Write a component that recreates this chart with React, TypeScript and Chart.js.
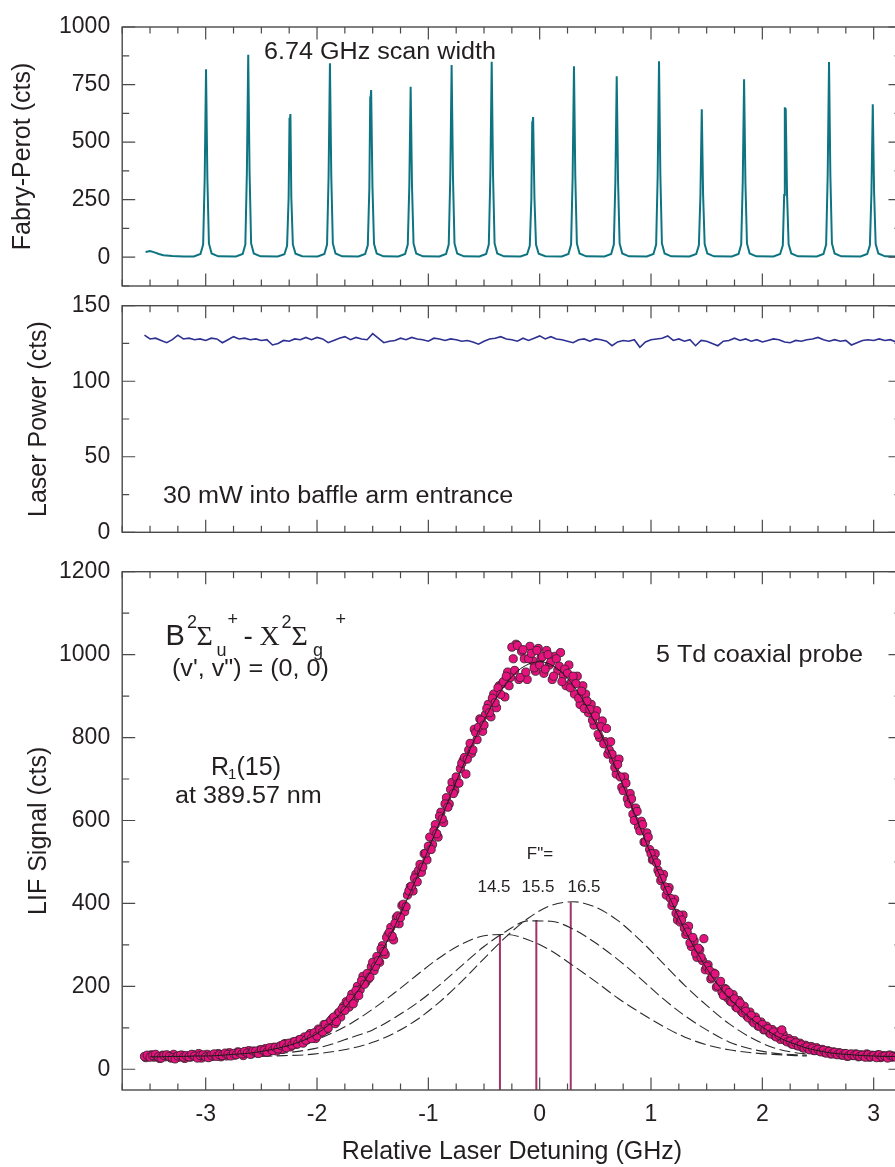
import React, { useEffect, useRef } from 'react';
import { Chart, registerables } from 'chart.js';

Chart.register(...registerables);

const FONT = "'Liberation Sans', Arial, Helvetica, sans-serif";
const SERIF = "'Liberation Serif', 'Times New Roman', serif";
const TEXT = '#231f20';
const AXIS = '#4a4a4a';

// ---------- axes ----------
const X_MIN = -3.75;
const X_MAX = 3.25;
const xTickLabels = [-3, -2, -1, 0, 1, 2, 3];
const fpTickLabels = [0, 250, 500, 750, 1000];
const powerTickLabels = [0, 50, 100, 150];
const lifTickLabels = [0, 200, 400, 600, 800, 1000, 1200];

// ---------- Fabry-Perot trace (GHz, cts) ----------
const fpX = [
  -3.54, -3.5, -3.46, -3.42, -3.38, -3.3, -3.2,
  -3.107, -3.047, -3.023, -3.009, -2.997, -2.985, -2.971, -2.947, -2.887,
  -2.728, -2.668, -2.644, -2.63, -2.618, -2.606, -2.592, -2.568, -2.508,
  -2.353, -2.293, -2.269, -2.255, -2.247, -2.244, -2.239, -2.231, -2.217, -2.193, -2.133,
  -1.994, -1.934, -1.91, -1.896, -1.884, -1.872, -1.858, -1.834, -1.774,
  -1.628, -1.568, -1.544, -1.53, -1.522, -1.519, -1.514, -1.502, -1.488, -1.464, -1.404,
  -1.269, -1.209, -1.185, -1.171, -1.159, -1.147, -1.133, -1.109, -1.049,
  -0.901, -0.841, -0.817, -0.803, -0.791, -0.779, -0.765, -0.741, -0.681,
  -0.541, -0.481, -0.457, -0.443, -0.431, -0.419, -0.405, -0.381, -0.321,
  -0.173, -0.113, -0.089, -0.075, -0.067, -0.064, -0.059, -0.047, -0.033, -0.009, 0.051,
  0.198, 0.258, 0.282, 0.296, 0.308, 0.32, 0.334, 0.358, 0.418,
  0.582, 0.642, 0.666, 0.68, 0.692, 0.704, 0.718, 0.742, 0.802,
  0.962, 1.022, 1.046, 1.06, 1.072, 1.084, 1.098, 1.122, 1.182,
  1.346, 1.406, 1.43, 1.444, 1.456, 1.468, 1.482, 1.506, 1.566,
  1.726, 1.786, 1.81, 1.824, 1.836, 1.848, 1.862, 1.886, 1.946,
  2.1, 2.16, 2.184, 2.196, 2.202, 2.205, 2.21, 2.222, 2.236, 2.26, 2.32,
  2.489, 2.549, 2.573, 2.587, 2.599, 2.611, 2.625, 2.649, 2.709,
  2.882, 2.942, 2.966, 2.98, 2.992, 3.004, 3.018, 3.042, 3.102, 3.2, 3.3,
];
const fpY = [
  23, 27, 21, 14, 9, 5, 3,
  3, 14, 55, 343, 816, 343, 60, 16, 4,
  3, 14, 55, 369, 879, 369, 60, 16, 4,
  3, 13, 50, 260, 606, 592, 622, 262, 55, 15, 4,
  3, 14, 55, 354, 842, 354, 60, 16, 4,
  3, 14, 52, 300, 698, 688, 726, 305, 58, 16, 4,
  3, 14, 55, 311, 740, 311, 60, 16, 4,
  3, 14, 55, 351, 835, 351, 60, 16, 4,
  3, 14, 55, 357, 849, 357, 60, 16, 4,
  3, 13, 50, 250, 590, 582, 609, 256, 55, 15, 4,
  3, 14, 55, 348, 829, 348, 60, 16, 4,
  3, 14, 55, 330, 786, 330, 60, 16, 4,
  3, 14, 55, 357, 851, 357, 60, 16, 4,
  3, 14, 52, 270, 643, 270, 57, 16, 4,
  3, 14, 55, 325, 773, 325, 60, 16, 4,
  3, 14, 52, 270, 651, 640, 647, 272, 57, 16, 4,
  3, 14, 55, 356, 848, 356, 60, 16, 4,
  3, 14, 52, 279, 664, 279, 57, 16, 4, 3, 3,
];

// ---------- Laser power (cts), sampled every 0.05 GHz from -3.55 ----------
const POWER_X0 = -3.55;
const POWER_DX = 0.05;
const powerValues = [
  130.5, 128, 128.5, 127, 125.5, 127.5, 130.5, 128, 128.5, 127.5,
  128, 127, 128.5, 128, 125.5, 127.5, 129.5, 128, 128.5, 127.5,
  128, 127, 127.5, 124, 125, 127, 126.5, 128, 127.5, 129,
  127.5, 129, 128, 125.5, 127, 128.5, 129.5, 127.5, 129, 128,
  127.5, 131.5, 128.5, 125.5, 126.5, 127, 128.5, 127.5, 129, 128,
  127.5, 126.5, 128.5, 128, 127, 128, 127.5, 126.5, 127, 126,
  124.5, 126.5, 128, 128.5, 129.5, 128, 127.5, 126.5, 128.5, 127,
  128.5, 130, 128, 129.5, 128, 127.5, 126.5, 125.5, 127.5, 128,
  126.5, 128, 127.5, 126.5, 123.5, 126, 127, 126.5, 127.5, 122.5,
  126, 127.5, 128, 128.5, 130, 127, 128, 126.5, 127.5, 123.5,
  127, 126.5, 125, 123.5, 126.5, 127, 128.5, 127, 128, 126.5,
  127.5, 126, 127, 128, 127.5, 126, 125.5, 127, 126.5, 127.5,
  128, 129, 127.5, 126.5, 127.5, 126.5, 127, 124, 125.5, 127,
  127.5, 127, 128, 127, 127.5, 126,
];

// ---------- LIF signal points (cts) ----------
// series A: every 0.025 GHz from -3.55
const LIF_X0 = -3.55;
const LIF_DX = 0.025;
const lifValues = [
  31, 34, 29, 33, 36, 30, 27, 33,
  35, 31, 28, 25, 32, 34, 29, 33,
  30, 36, 32, 27, 33, 35, 30, 28,
  34, 37, 31, 35, 33, 39, 36, 32,
  38, 35, 41, 37, 43, 39, 36, 44,
  44, 38, 47, 46, 41, 52, 45, 53,
  49, 57, 60, 52, 63, 58, 67, 61,
  72, 63, 70, 81, 74, 88, 80, 95,
  90, 108, 99, 118, 126, 115, 138, 146,
  142, 160, 171, 158, 190, 178, 214, 205,
  231, 222, 258, 248, 262, 290, 284, 318,
  330, 321, 352, 370, 366, 398, 392, 430,
  442, 461, 452, 494, 488, 521, 538, 530,
  575, 568, 610, 604, 640, 632, 675, 665,
  705, 690, 738, 752, 748, 786, 770, 812,
  825, 842, 830, 870, 860, 895, 884, 920,
  904, 935, 948, 925, 1018, 962, 1022, 945,
  1012, 958, 990, 1003, 968, 1010, 975, 995,
  965, 1000, 982, 948, 990, 972, 935, 965,
  955, 920, 948, 930, 895, 912, 870, 888,
  868, 842, 852, 808, 826, 785, 822, 770,
  760, 728, 735, 705, 672, 690, 640, 652,
  600, 622, 575, 590, 548, 560, 520, 505,
  498, 472, 460, 440, 431, 412, 402, 376,
  372, 360, 340, 331, 305, 318, 280, 292,
  270, 315, 248, 238, 222, 230, 201, 212,
  178, 192, 185, 162, 170, 148, 160, 136,
  140, 124, 130, 112, 118, 104, 108, 96,
  98, 85, 90, 78, 82, 95, 72, 66,
  68, 60, 64, 56, 59, 51, 54, 47,
  51, 45, 48, 42, 46, 39, 43, 37,
  41, 35, 39, 34, 38, 32, 37, 33,
  36, 31, 34, 29, 35, 30, 33, 28,
  35, 30, 32, 27, 34, 31, 29,
];
// series B: every 0.025 GHz from -3.5375 (interleaved scans)
const LIF2_X0 = -3.5375;
const lifValues2 = [
  28, 32, 35, 29, 31, 26, 34, 30,
  33, 27, 36, 30, 29, 34, 26, 31,
  29, 35, 31, 38, 27, 32, 36, 30,
  31, 35, 38, 30, 36, 32, 40, 35,
  34, 42, 38, 33, 40, 45, 37, 41,
  39, 47, 43, 50, 42, 48, 53, 44,
  55, 48, 62, 57, 54, 66, 60, 71,
  66, 78, 71, 86, 80, 74, 97, 89,
  108, 96, 114, 122, 110, 134, 126, 152,
  163, 150, 181, 168, 200, 192, 224, 210,
  218, 247, 238, 272, 258, 298, 277, 325,
  342, 312, 366, 351, 395, 380, 420, 440,
  430, 470, 480, 475, 520, 505, 560, 542,
  590, 560, 620, 595, 655, 640, 692, 672,
  690, 725, 745, 712, 770, 762, 820, 795,
  845, 815, 855, 880, 850, 905, 872, 925,
  930, 898, 958, 945, 990, 1025, 940, 1008,
  990, 940, 1020, 985, 960, 1015, 992, 955,
  1010, 975, 940, 996, 962, 1005, 950, 925,
  975, 935, 905, 948, 880, 925, 905, 860,
  880, 830, 865, 800, 840, 790, 760, 790,
  745, 712, 748, 680, 705, 652, 665, 615,
  630, 585, 598, 548, 570, 530, 505, 520,
  480, 455, 470, 420, 438, 395, 410, 360,
  355, 372, 325, 345, 296, 310, 270, 288,
  262, 240, 252, 218, 232, 198, 205, 186,
  195, 172, 164, 180, 150, 166, 140, 152,
  128, 138, 116, 126, 104, 114, 95, 104,
  88, 96, 80, 90, 72, 84, 68, 74,
  61, 69, 57, 63, 52, 58, 49, 55,
  45, 52, 44, 48, 40, 45, 37, 42,
  36, 40, 34, 38, 31, 36, 33, 37,
  30, 35, 32, 37, 29, 34, 31, 35,
  28, 33, 30, 34, 29, 32,
];

// ---------- fit (solid) every 0.1 GHz from -3.5 ----------
const FIT_X0 = -3.5;
const FIT_DX = 0.1;
const fitValues = [
  30, 30, 31, 31, 32, 32, 33, 35, 37, 39,
  43, 48, 54, 62, 72, 86, 106, 132, 164, 202,
  245, 293, 346, 404, 465, 530, 595, 661, 725, 787,
  842, 891, 930, 960, 977, 983, 976, 957, 926, 885,
  835, 779, 716, 651, 584, 518, 454, 395, 338, 288,
  243, 204, 172, 145, 122, 102, 84, 70, 60, 51,
  45, 40, 37, 35, 33, 32, 31, 31, 30,
];

// ---------- hyperfine components (dashed) ----------
const compX = [
  -2.5, -2.3, -2.1, -1.9, -1.7, -1.5, -1.3, -1.1, -0.9, -0.7, -0.5, -0.3, -0.1,
  0.1, 0.3, 0.5, 0.7, 0.9, 1.1, 1.3, 1.5, 1.7, 1.9, 2.1, 2.3, 2.4,
];
const comp145 = [41, 49, 63, 83, 110, 145, 185, 228, 269, 302, 322, 325, 312, 286, 250, 212, 172, 137, 105, 78, 59, 47, 40, 36, 33, 32];
const comp155 = [34, 39, 46, 58, 76, 95, 125, 160, 203, 250, 296, 333, 358, 357, 338, 305, 265, 220, 172, 130, 95, 66, 49, 39, 35, 34];
const comp165 = [31, 33, 35, 41, 50, 65, 88, 120, 162, 212, 267, 320, 365, 395, 404, 391, 359, 312, 258, 203, 154, 110, 76, 52, 40, 37];

// ---------- stick spectrum ----------
const stickX = [-0.357, -0.03, 0.279];
const stickHeights = [324, 360, 403];
const stickLabels = ['14.5', '15.5', '16.5'];

// ---------- layout ----------
const CANVAS_W = 910;
const PLOT_LEFT = 122.2;
const PLOT_RIGHT = 901.5;

function txt(ctx: any, s: string, x: number, y: number, size: number, family = FONT, sx = 1, align = 'left') {
  ctx.save();
  ctx.font = `${size}px ${family}`;
  ctx.fillStyle = TEXT;
  ctx.textBaseline = 'alphabetic';
  ctx.textAlign = align;
  ctx.translate(x, y);
  ctx.scale(sx, 1);
  ctx.fillText(s, 0, 0);
  ctx.restore();
}

function framePlugin(cfg: any) {
  return {
    id: 'frameTicks',
    afterDatasetsDraw(chart: any) {
      const { ctx, chartArea: a, scales } = chart;
      const xs = scales.x;
      const ys = scales.y;
      ctx.save();
      ctx.strokeStyle = AXIS;
      ctx.lineWidth = 1.4;
      ctx.strokeRect(a.left, a.top, a.right - a.left, a.bottom - a.top);
      ctx.lineWidth = 1.2;
      ctx.beginPath();
      const isMajor = (v: number, step: number) => Math.abs(v / step - Math.round(v / step)) < 1e-6;
      for (let k = Math.ceil(xs.min / cfg.xMinor - 1e-9); k * cfg.xMinor <= xs.max + 1e-9; k++) {
        const v = k * cfg.xMinor;
        const len = isMajor(v, cfg.xMajor) ? 12.5 : 6.5;
        const px = xs.getPixelForValue(v);
        ctx.moveTo(px, a.bottom);
        ctx.lineTo(px, a.bottom - len);
        ctx.moveTo(px, a.top);
        ctx.lineTo(px, a.top + len);
      }
      for (let k = Math.ceil(ys.min / cfg.yMinor - 1e-9); k * cfg.yMinor <= ys.max + 1e-9; k++) {
        const v = k * cfg.yMinor;
        const len = isMajor(v, cfg.yMajor) ? 13 : 7;
        const py = ys.getPixelForValue(v);
        ctx.moveTo(a.left, py);
        ctx.lineTo(a.left + len, py);
        ctx.moveTo(a.right, py);
        ctx.lineTo(a.right - len, py);
      }
      ctx.stroke();
      ctx.restore();
    },
    afterDraw(chart: any) {
      if (cfg.annotate) cfg.annotate(chart.ctx, chart);
    },
  };
}

function xScale(show: boolean) {
  return {
    type: 'linear',
    min: X_MIN,
    max: X_MAX,
    display: show,
    afterBuildTicks: (s: any) => {
      s.ticks = xTickLabels.map((v) => ({ value: v }));
    },
    afterFit: (s: any) => {
      if (show) s.height = 77;
      s.paddingLeft = 0;
      s.paddingRight = 0;
    },
    grid: { display: false, drawTicks: false },
    border: { display: false },
    ticks: {
      padding: 10.4,
      color: TEXT,
      maxRotation: 0,
      autoSkip: false,
      font: { size: 23, family: FONT },
      callback: (v: any) => String(v),
    },
    title: {
      display: show,
      text: 'Relative Laser Detuning (GHz)',
      color: TEXT,
      font: { size: 25, family: FONT },
      padding: { top: 0, bottom: 0 },
    },
  };
}

function yScale(min: number, max: number, labels: number[], title: string, titlePad: number) {
  return {
    type: 'linear',
    position: 'left',
    min,
    max,
    afterBuildTicks: (s: any) => {
      s.ticks = labels.map((v) => ({ value: v }));
    },
    afterFit: (s: any) => {
      s.width = PLOT_LEFT;
      s.paddingTop = 0;
      s.paddingBottom = 0;
    },
    grid: { display: false, drawTicks: false },
    border: { display: false },
    ticks: {
      padding: 12,
      color: TEXT,
      autoSkip: false,
      font: { size: 23, family: FONT },
      callback: (v: any) => String(v),
    },
    title: {
      display: true,
      text: title,
      color: TEXT,
      font: { size: 25, family: FONT },
      padding: { top: titlePad, bottom: 0 },
    },
  };
}

function baseOptions(padding: any, showX: boolean, y: any) {
  return {
    responsive: false,
    maintainAspectRatio: false,
    animation: false,
    events: [],
    layout: { padding },
    plugins: { legend: { display: false }, tooltip: { enabled: false } },
    scales: { x: xScale(showX), y },
  };
}

function fpConfig(): any {
  return {
    type: 'line',
    data: {
      datasets: [
        {
          data: fpX.map((x, i) => ({ x, y: fpY[i] })),
          borderColor: '#0f7482',
          borderWidth: 2,
          pointRadius: 0,
          tension: 0,
        },
      ],
    },
    options: baseOptions(
      { left: 0, right: CANVAS_W - PLOT_RIGHT, top: 27, bottom: 14 },
      false,
      yScale(-125, 1000, fpTickLabels, 'Fabry-Perot (cts)', 8)
    ),
    plugins: [
      framePlugin({
        xMinor: 0.25, xMajor: 1, yMinor: 125, yMajor: 250,
        annotate: (ctx: any) => {
          txt(ctx, '6.74 GHz scan width', 264, 59, 23.5, FONT, 1.07);
        },
      }),
    ],
  };
}

function powerConfig(): any {
  return {
    type: 'line',
    data: {
      datasets: [
        {
          data: powerValues.map((v, i) => ({ x: POWER_X0 + i * POWER_DX, y: v })),
          borderColor: '#2d3191',
          borderWidth: 1.6,
          pointRadius: 0,
          tension: 0,
        },
      ],
    },
    options: baseOptions(
      { left: 0, right: CANVAS_W - PLOT_RIGHT, top: 25.7, bottom: 22.7 },
      false,
      yScale(0, 150, powerTickLabels, 'Laser Power (cts)', 24)
    ),
    plugins: [
      framePlugin({
        xMinor: 0.25, xMajor: 1, yMinor: 25, yMajor: 50,
        annotate: (ctx: any) => {
          txt(ctx, '30 mW into baffle arm entrance', 163, 223, 23.5, FONT, 1.07);
        },
      }),
    ],
  };
}

function lifConfig(): any {
  const dashed = (vals: number[]) => ({
    data: compX.map((x, i) => ({ x, y: vals[i] })),
    borderColor: '#2a2a2a',
    borderWidth: 1.1,
    borderDash: [11, 4.5],
    pointRadius: 0,
    cubicInterpolationMode: 'monotone',
  });
  const stick = (i: number) => ({
    data: [
      { x: stickX[i], y: -50 },
      { x: stickX[i], y: stickHeights[i] },
    ],
    borderColor: '#a3336b',
    borderWidth: 2,
    pointRadius: 0,
  });
  const points = (vals: number[], x0: number) => ({
    data: vals.map((v, i) => ({ x: x0 + i * LIF_DX, y: v })),
    showLine: false,
    pointRadius: 4.1,
    pointBackgroundColor: '#e5127d',
    pointBorderColor: '#40202f',
    pointBorderWidth: 0.9,
  });
  return {
    type: 'line',
    data: {
      datasets: [
        {
          data: fitValues.map((v, i) => ({ x: FIT_X0 + i * FIT_DX, y: v })),
          borderColor: '#1a1a1a',
          borderWidth: 1,
          pointRadius: 0,
          cubicInterpolationMode: 'monotone',
        },
        points(lifValues, LIF_X0),
        points(lifValues2, LIF2_X0),
        dashed(comp145),
        dashed(comp155),
        dashed(comp165),
        stick(0),
        stick(1),
        stick(2),
      ],
    },
    options: baseOptions(
      { left: 0, right: CANVAS_W - PLOT_RIGHT, top: 26.7, bottom: 0 },
      true,
      yScale(-50, 1200, lifTickLabels, 'LIF Signal (cts)', 24)
    ),
    plugins: [
      framePlugin({
        xMinor: 0.25, xMajor: 1, yMinor: 100, yMajor: 200,
        annotate: (ctx: any) => {
          // B 2Σu+ - X 2Σg+
          txt(ctx, 'B', 165.5, 100, 29);
          txt(ctx, '2', 187, 83, 18);
          txt(ctx, 'Σ', 196.5, 100, 28, SERIF);
          txt(ctx, 'u', 216.5, 111, 18);
          txt(ctx, '+', 227.5, 80, 18);
          txt(ctx, '-', 243.5, 100, 28);
          txt(ctx, 'X', 259.5, 100, 28, SERIF);
          txt(ctx, '2', 281.5, 83, 18);
          txt(ctx, 'Σ', 291.5, 100, 28, SERIF);
          txt(ctx, 'g', 313, 111, 18);
          txt(ctx, '+', 335.5, 80, 18);
          txt(ctx, '(v\', v") = (0, 0)', 172, 131, 23.5, FONT, 1.07);
          txt(ctx, 'R', 211, 230, 25);
          txt(ctx, '1', 228, 234, 15);
          txt(ctx, '(15)', 236.5, 230, 25);
          txt(ctx, 'at 389.57 nm', 175, 258, 23.5, FONT, 1.07);
          txt(ctx, '5 Td coaxial probe', 656, 116.7, 23.5, FONT, 1.07);
          txt(ctx, 'F"=', 540, 314, 17, FONT, 1, 'center');
          txt(ctx, stickLabels[0], 494, 347, 17, FONT, 1, 'center');
          txt(ctx, stickLabels[1], 538, 347, 17, FONT, 1, 'center');
          txt(ctx, stickLabels[2], 584, 347, 17, FONT, 1, 'center');
        },
      }),
    ],
  };
}

function ChartCanvas({ top, height, makeConfig }: { top: number; height: number; makeConfig: () => any }) {
  const ref = useRef<HTMLCanvasElement | null>(null);
  useEffect(() => {
    if (!ref.current) return;
    const chart = new Chart(ref.current, makeConfig());
    return () => chart.destroy();
  }, []);
  return (
    <canvas
      ref={ref}
      width={CANVAS_W}
      height={height}
      style={{ position: 'absolute', left: 0, top, width: CANVAS_W, height, display: 'block' }}
    />
  );
}

export default function App() {
  return (
    <div
      style={{
        position: 'fixed',
        left: 0,
        top: 0,
        width: 895,
        height: 1167,
        overflow: 'hidden',
        background: '#ffffff',
      }}
    >
      <ChartCanvas top={0} height={300} makeConfig={fpConfig} />
      <ChartCanvas top={280} height={275} makeConfig={powerConfig} />
      <ChartCanvas top={545} height={622} makeConfig={lifConfig} />
    </div>
  );
}
